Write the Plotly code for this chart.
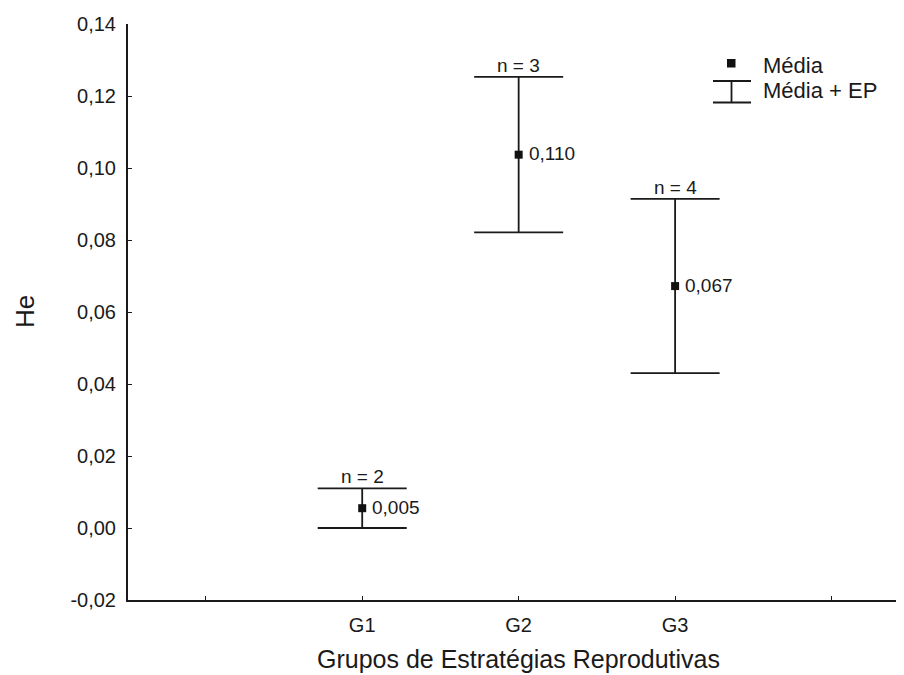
import plotly.graph_objects as go

groups = ["G1", "G2", "G3"]
x_pos = [1, 2, 3]
means = [0.0055, 0.1037, 0.0672]
ep = [0.0055, 0.0216, 0.0242]
n_labels = ["n = 2", "n = 3", "n = 4"]
value_labels = ["0,005", "0,110", "0,067"]

y_tickvals = [-0.02, 0.0, 0.02, 0.04, 0.06, 0.08, 0.10, 0.12, 0.14]
y_ticktext = ["-0,02", "0,00", "0,02", "0,04", "0,06", "0,08", "0,10", "0,12", "0,14"]
x_tickvals = [0, 1, 2, 3, 4]
x_ticktext = ["", "G1", "G2", "G3", ""]

INK = "#1a1a1a"
FONT = "Liberation Sans, Arial, sans-serif"

# page body has an 8px default margin; the figure is sized so it ends at the window edge
OFF = 8
WIN_W, WIN_H = 904, 675
W, H = WIN_W - OFF, WIN_H - OFF
PL, PR, PT, PB = 128, 904, 24, 600   # plot area in window pixels
ML, MR, MT, MB = PL - OFF, WIN_W - PR, PT - OFF, WIN_H - PB
PW, PH = PR - PL, PB - PT


def px(x):
    return (x - PL) / PW


def py(y):
    return (PB - y) / PH


fig = go.Figure()
fig.add_trace(go.Scatter(
    x=x_pos, y=means, mode="markers",
    marker=dict(symbol="square", size=8, color="#111111", line=dict(width=0)),
    error_y=dict(type="data", array=ep, visible=True, color=INK, thickness=1.8, width=44.5),
    showlegend=False, hoverinfo="skip",
))

for xp, m, e, nl, vl in zip(x_pos, means, ep, n_labels, value_labels):
    fig.add_annotation(x=xp, y=m + e, text=nl, showarrow=False, xanchor="center", yanchor="bottom",
                       yshift=-1, font=dict(family=FONT, size=19, color=INK))
    fig.add_annotation(x=xp, y=m, text=vl, showarrow=False, xanchor="left", yanchor="middle",
                       xshift=8, yshift=1, font=dict(family=FONT, size=19, color=INK))

# Legend drawn manually
shapes = [
    dict(type="rect", xref="paper", yref="paper", x0=px(727), x1=px(735.5), y0=py(67.5), y1=py(59),
         fillcolor="#111111", line=dict(width=0)),
    dict(type="line", xref="paper", yref="paper", x0=px(713), x1=px(751), y0=py(81), y1=py(81),
         line=dict(color=INK, width=1.8)),
    dict(type="line", xref="paper", yref="paper", x0=px(713), x1=px(751), y0=py(102.5), y1=py(102.5),
         line=dict(color=INK, width=1.8)),
    dict(type="line", xref="paper", yref="paper", x0=px(731.5), x1=px(731.5), y0=py(81), y1=py(102.5),
         line=dict(color=INK, width=1.8)),
]
fig.add_annotation(xref="paper", yref="paper", x=px(761), y=py(65), text="Média", showarrow=False,
                   xanchor="left", yanchor="middle", font=dict(family=FONT, size=22, color=INK))
fig.add_annotation(xref="paper", yref="paper", x=px(761), y=py(91), text="Média + EP", showarrow=False,
                   xanchor="left", yanchor="middle", font=dict(family=FONT, size=22, color=INK))

# Axis titles
fig.add_annotation(xref="paper", yref="paper", x=px(518), y=py(659), text="Grupos de Estratégias Reprodutivas",
                   showarrow=False, xanchor="center", yanchor="middle", font=dict(family=FONT, size=25, color=INK))
fig.add_annotation(xref="paper", yref="paper", x=px(25), y=py(312), text="He", textangle=-90,
                   showarrow=False, xanchor="center", yanchor="middle", font=dict(family=FONT, size=26, color=INK))

fig.update_layout(
    width=W, height=H,
    margin=dict(l=ML, r=MR, t=MT, b=MB, autoexpand=False),
    paper_bgcolor="white", plot_bgcolor="white",
    shapes=shapes,
    showlegend=False,
    font=dict(family=FONT, color=INK),
)
fig.update_xaxes(
    range=[-0.497, 4.463], tickvals=x_tickvals, ticktext=x_ticktext,
    showgrid=False, zeroline=False, showline=True, linecolor=INK, linewidth=2,
    ticks="inside", ticklen=4, tickwidth=1, tickcolor=INK, ticklabelstandoff=6,
    tickfont=dict(family=FONT, size=20, color=INK), automargin=False,
)
fig.update_yaxes(
    range=[-0.02, 0.14], tickvals=y_tickvals, ticktext=y_ticktext,
    showgrid=False, zeroline=False, showline=True, linecolor=INK, linewidth=2,
    ticks="inside", ticklen=4, tickwidth=1, tickcolor=INK, ticklabelstandoff=6,
    tickfont=dict(family=FONT, size=20, color=INK), automargin=False,
)

fig.write_html("out.html")
